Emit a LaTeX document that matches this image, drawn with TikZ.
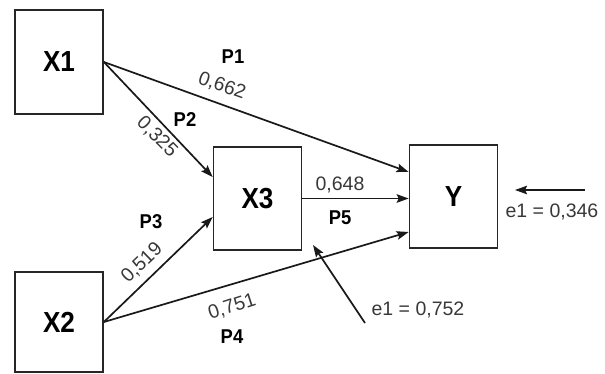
\documentclass[tikz,border=0pt]{standalone}
\usepackage{fontspec}
\setmainfont{Liberation Sans}
\usetikzlibrary{arrows.meta}
\definecolor{numgray}{HTML}{383838}
\tikzset{
  box/.style={draw=black!85, line width=1.7pt, minimum width=88pt, minimum height=103pt, inner sep=0pt,
     font=\fontsize{29}{29}\selectfont\bfseries},
  path/.style={draw=black!90, line width=1.7pt, -{Stealth[length=12pt,width=8.5pt,inset=2pt]}},
  plab/.style={font=\fontsize{20}{20}\selectfont\bfseries, xscale=0.92, inner sep=0pt},
  nlab/.style={font=\fontsize{19.5}{19.5}\selectfont, text=numgray, inner sep=0pt},
}
\begin{document}
\begin{tikzpicture}[x=1pt,y=1pt]
\useasboundingbox (0,0) rectangle (605,-374);
\node[box, minimum height=104pt] (X1) at (59,-62) {\scalebox{0.9}[1]{X1}};
\node[box, minimum height=100pt] (X2) at (59,-322) {\scalebox{0.9}[1]{X2}};
\node[box] (X3) at (257.5,-198.5) {\scalebox{0.9}[1]{X3}};
\node[box] (Y) at (453.5,-196.5) {\scalebox{0.9}[1]{Y}};
\coordinate (e1t) at (365,-323);
\coordinate (e1h) at (313,-245);
\coordinate (e2t) at (585,-190);
\coordinate (e2h) at (515,-190);
\draw[path] (X1.east) -- ([yshift=24.5pt]Y.west);
\draw[path] (X1.east) -- ([yshift=21.5pt]X3.west);
\draw[path] (X3.east) -- (X3.east -| Y.west);
\draw[path] (X2.east) -- ([yshift=-18.5pt]X3.west);
\draw[path] (X2.east) -- ([yshift=-35.5pt]Y.west);
\draw[path] (e1t) -- (e1h);
\draw[path] (e2t) -- (e2h);
\node[plab] (p1) at (233,-57) {P1};
\node[plab] (p2) at (185,-120) {P2};
\node[plab] (p3) at (151,-222) {P3};
\node[plab] (p4) at (232,-337) {P4};
\node[plab] (p5) at (340,-218) {P5};
\node[nlab, rotate=-19.5] (n1) at (222,-86) {0,662};
\node[nlab, rotate=-45] (n2) at (157,-137) {0,325};
\node[nlab, rotate=44] (n3) at (142,-263) {0,519};
\node[nlab, rotate=18] (n4) at (232,-307) {0,751};
\node[nlab] (n5) at (340,-185) {0,648};
\node[nlab] (n6) at (418,-310) {e1 = 0,752};
\node[nlab] (n7) at (552,-212) {e1 = 0,346};
\end{tikzpicture}
\end{document}
